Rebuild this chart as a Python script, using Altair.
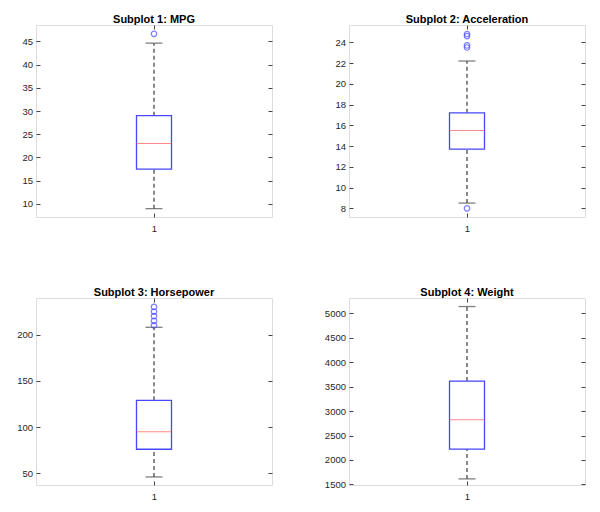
import altair as alt
import pandas as pd

# ---- data ----
titles = ["Subplot 1: MPG", "Subplot 2: Acceleration", "Subplot 3: Horsepower", "Subplot 4: Weight"]
group = [1]
whisker_low = [9.0, 8.5, 46.0, 1613.0]
q1 = [17.5, 13.7, 76.0, 2223.0]
median = [23.0, 15.5, 95.0, 2822.0]
q3 = [29.0, 17.2, 129.0, 3614.0]
whisker_high = [44.6, 22.2, 208.0, 5140.0]
outliers = [
    [46.6],
    [8.0, 23.5, 23.7, 24.6, 24.8],
    [210.0, 215.0, 220.0, 225.0, 230.0],
    [],
]
y_domains = [[7.2, 48.5], [7.16, 25.67], [37.3, 239.7], [1488.0, 5315.0]]
y_ticks = [
    [10, 15, 20, 25, 30, 35, 40, 45],
    [8, 10, 12, 14, 16, 18, 20, 22, 24],
    [50, 100, 150, 200],
    [1500, 2000, 2500, 3000, 3500, 4000, 4500, 5000],
]
x_domain = [0.5, 1.5]

FONT = "Liberation Sans"
W = 236
HEIGHTS = [192, 192, 187, 187]
BOX_PX = 35
CAP_PX = 17
BLUE = "#4747ff"
RED = "#ff5a5a"
WHISK = "#4a4a4a"


def make_panel(i):
    stats = pd.DataFrame({
        "g": group,
        "lo": [whisker_low[i]],
        "q1": [q1[i]],
        "med": [median[i]],
        "q3": [q3[i]],
        "hi": [whisker_high[i]],
    })
    out = pd.DataFrame({"g": [group[0]] * len(outliers[i]), "v": outliers[i]})

    xs = alt.Scale(domain=x_domain, nice=False, zero=False)
    ys = alt.Scale(domain=y_domains[i], nice=False, zero=False)

    common_axis = dict(grid=False, domain=False, tickSize=4, offset=-4, tickColor="#444444",
                       labelFont=FONT, labelFontSize=9.5, labelColor="#262626", title=None, format="d")
    x_bottom = alt.Axis(values=[1], labelPadding=6.5, orient="bottom", **common_axis)
    x_top = alt.Axis(values=[1], labels=False, orient="top", **common_axis)
    y_left = alt.Axis(values=y_ticks[i], labelPadding=3.5, orient="left", **common_axis)
    y_right = alt.Axis(values=y_ticks[i], labels=False, orient="right", **common_axis)

    base = alt.Chart(stats)

    upper = base.mark_rule(color=WHISK, strokeDash=[4, 3], strokeWidth=1.3).encode(
        x=alt.X("g:Q", scale=xs, axis=x_bottom),
        y=alt.Y("q3:Q", scale=ys, axis=y_left),
        y2="hi:Q",
    )
    lower = base.mark_rule(color=WHISK, strokeDash=[4, 3], strokeWidth=1.3).encode(
        x=alt.X("g:Q", scale=xs, axis=None),
        y=alt.Y("lo:Q", scale=ys, axis=None),
        y2="q1:Q",
    )
    cap_hi = base.mark_tick(orient="horizontal", size=CAP_PX, thickness=1.3, color=WHISK).encode(
        x=alt.X("g:Q", scale=xs, axis=x_top),
        y=alt.Y("hi:Q", scale=ys, axis=y_right),
    )
    cap_lo = base.mark_tick(orient="horizontal", size=CAP_PX, thickness=1.3, color=WHISK).encode(
        x=alt.X("g:Q", scale=xs, axis=None),
        y=alt.Y("lo:Q", scale=ys, axis=None),
    )
    box = base.mark_bar(size=BOX_PX, fill="white", fillOpacity=0, stroke=BLUE, strokeWidth=1.3).encode(
        x=alt.X("g:Q", scale=xs, axis=None),
        y=alt.Y("q1:Q", scale=ys, axis=None),
        y2="q3:Q",
    )
    med = base.mark_tick(orient="horizontal", size=BOX_PX, thickness=1, color=RED).encode(
        x=alt.X("g:Q", scale=xs, axis=None),
        y=alt.Y("med:Q", scale=ys, axis=None),
    )
    layers = [upper, lower, box, cap_hi, cap_lo, med]
    if len(out):
        pts = alt.Chart(out).mark_point(shape="circle", filled=False, color=BLUE, size=30, strokeWidth=1.2).encode(
            x=alt.X("g:Q", scale=xs, axis=None),
            y=alt.Y("v:Q", scale=ys, axis=None),
        )
        layers.append(pts)

    return alt.layer(*layers).resolve_axis(x="independent", y="independent").properties(
        width=W,
        height=HEIGHTS[i],
        title=alt.TitleParams(titles[i], font=FONT, fontSize=11, fontWeight="bold", color="black", offset=0),
    )


panels = [make_panel(i) for i in range(4)]

chart = alt.concat(*panels, columns=2, spacing=alt.RowColnumber(row=52, column=50)).properties(
    padding={"left": 8, "top": 5, "right": 5, "bottom": 5},
).configure_view(
    stroke="#707070", strokeWidth=1
).configure(background="white")

chart.save("out.html", embed_options={"renderer": "svg", "actions": False})
